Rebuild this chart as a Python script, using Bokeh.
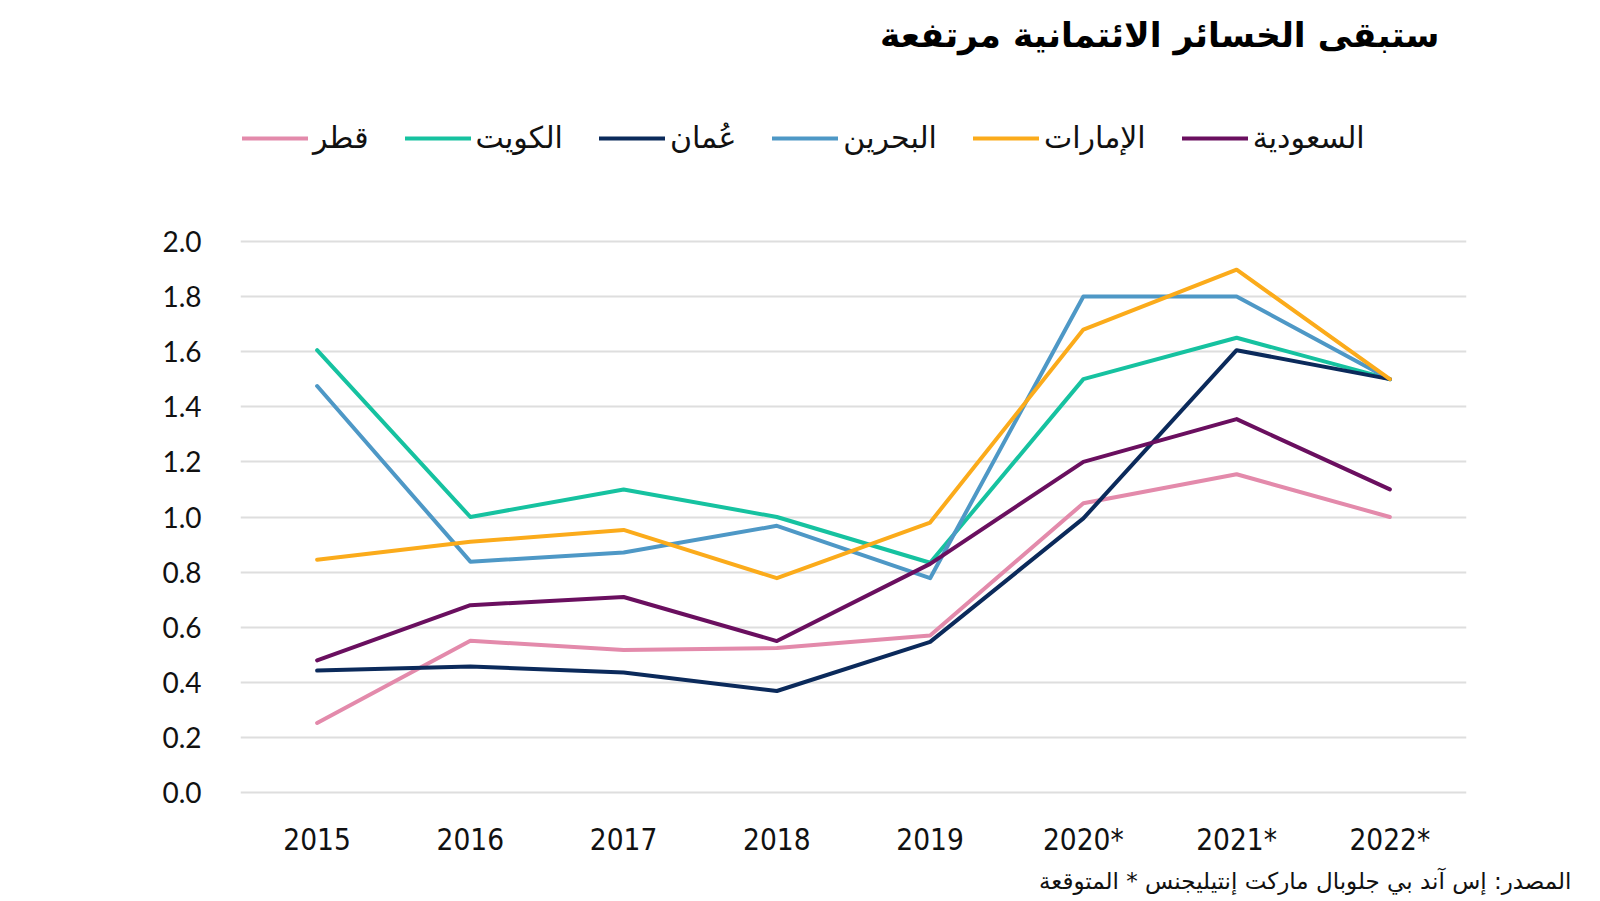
from bokeh.plotting import figure
from bokeh.layouts import column
from bokeh.models import (Legend, LegendItem, Title, Label, FactorRange, Range1d,
                          FixedTicker, NumeralTickFormatter)
from bokeh.embed import file_html
from bokeh.resources import INLINE

years = ["2015", "2016", "2017", "2018", "2019", "2020*", "2021*", "2022*"]
y_ticks = [0.0, 0.2, 0.4, 0.6, 0.8, 1.0, 1.2, 1.4, 1.6, 1.8, 2.0]

saudi = [0.48, 0.68, 0.71, 0.55, 0.83, 1.20, 1.355, 1.10]
uae = [0.845, 0.91, 0.953, 0.778, 0.98, 1.68, 1.897, 1.50]
bahrain = [1.475, 0.838, 0.871, 0.968, 0.778, 1.80, 1.80, 1.50]
oman = [0.443, 0.458, 0.436, 0.369, 0.547, 0.995, 1.605, 1.50]
kuwait = [1.605, 1.00, 1.10, 1.00, 0.834, 1.50, 1.65, 1.50]
qatar = [0.253, 0.551, 0.518, 0.525, 0.57, 1.05, 1.155, 1.00]

names = {
    "saudi": "السعودية",
    "uae": "الإمارات",
    "bahrain": "البحرين",
    "oman": "عُمان",
    "kuwait": "الكويت",
    "qatar": "قطر",
}
colors = {
    "saudi": "#6a0f5f",
    "uae": "#fbab1b",
    "bahrain": "#4e98c6",
    "oman": "#0b2a5b",
    "kuwait": "#16c2a0",
    "qatar": "#e38aab",
}
series = {"saudi": saudi, "uae": uae, "bahrain": bahrain,
          "oman": oman, "kuwait": kuwait, "qatar": qatar}

AR = "DejaVu Sans"
W = 1600
TOTAL_H = 900
HEAD_H = 200
BL, BR = 240, 134  # shared frame borders (left/right)

# ---------- header: title + legend ----------
head = figure(width=W, height=HEAD_H, output_backend="svg", toolbar_location=None,
              x_range=Range1d(BL, W - BR), y_range=Range1d(-HEAD_H, 0),
              x_axis_location=None, y_axis_location=None,
              min_border_left=BL, min_border_right=BR, min_border_top=0, min_border_bottom=0)
head.outline_line_color = None
head.grid.grid_line_color = None
head.border_fill_color = "white"

head.add_layout(Label(x=1439, y=-34, text="ستبقى الخسائر الائتمانية مرتفعة",
                      text_align="right", text_baseline="middle",
                      text_font=AR, text_font_size="34.5px", text_font_style="bold",
                      text_color="#000000"))

legend_order = ["qatar", "kuwait", "oman", "bahrain", "uae", "saudi"]
items = []
for k in legend_order:
    # legend proxy: same series, lies outside the header's visible range
    r = head.line(x=list(range(len(years))), y=series[k], line_color=colors[k],
                  line_width=4, line_cap="round")
    items.append(LegendItem(label=names[k], renderers=[r]))
legend = Legend(items=items, orientation="horizontal", location=(2, 45),
                label_text_font=AR, label_text_font_size="30px", label_text_color="#111111",
                label_text_baseline="middle",
                glyph_width=66, glyph_height=30, label_height=30, label_standoff=5, spacing=36,
                padding=0, margin=0, border_line_color=None, background_fill_alpha=0)
head.add_layout(legend, "center")

# ---------- main chart ----------
p = figure(width=W, height=TOTAL_H - HEAD_H, output_backend="svg", toolbar_location=None,
           x_range=FactorRange(*years), y_range=Range1d(-0.05, 2.05),
           min_border_left=BL, min_border_right=BR,
           min_border_top=27, min_border_bottom=94)
p.outline_line_color = None
p.background_fill_color = "white"
p.border_fill_color = "white"

draw_order = ["qatar", "kuwait", "bahrain", "oman", "saudi", "uae"]
for k in draw_order:
    p.line(years, series[k], line_color=colors[k], line_width=4,
           line_join="round", line_cap="round")

p.xgrid.grid_line_color = None
p.ygrid.grid_line_color = "#dedede"
p.ygrid.grid_line_width = 2
p.yaxis.ticker = FixedTicker(ticks=y_ticks)
p.yaxis.formatter = NumeralTickFormatter(format="0.0")

for ax in (p.xaxis, p.yaxis):
    ax.axis_line_color = None
    ax.major_tick_line_color = None
    ax.minor_tick_line_color = None
    ax.major_label_text_color = "#111111"

p.yaxis.major_label_text_font = "Lato"
p.yaxis.major_label_text_font_size = "28px"
p.yaxis.major_label_standoff = 33
p.xaxis.major_label_text_font = "DejaVu Sans Condensed"
p.xaxis.major_label_text_font_size = "29.5px"
p.xaxis.major_label_standoff = 10

src = Title(text="المصدر: إس آند بي جلوبال ماركت إنتيليجنس * المتوقعة", align="right",
            text_font=AR, text_font_size="23px", text_font_style="normal",
            text_color="#111111", offset=-105)
try:
    src.standoff = 12
except Exception:
    pass
p.add_layout(src, "below")

layout = column(head, p, spacing=0)
open("out.html", "w").write(file_html(layout, INLINE))
